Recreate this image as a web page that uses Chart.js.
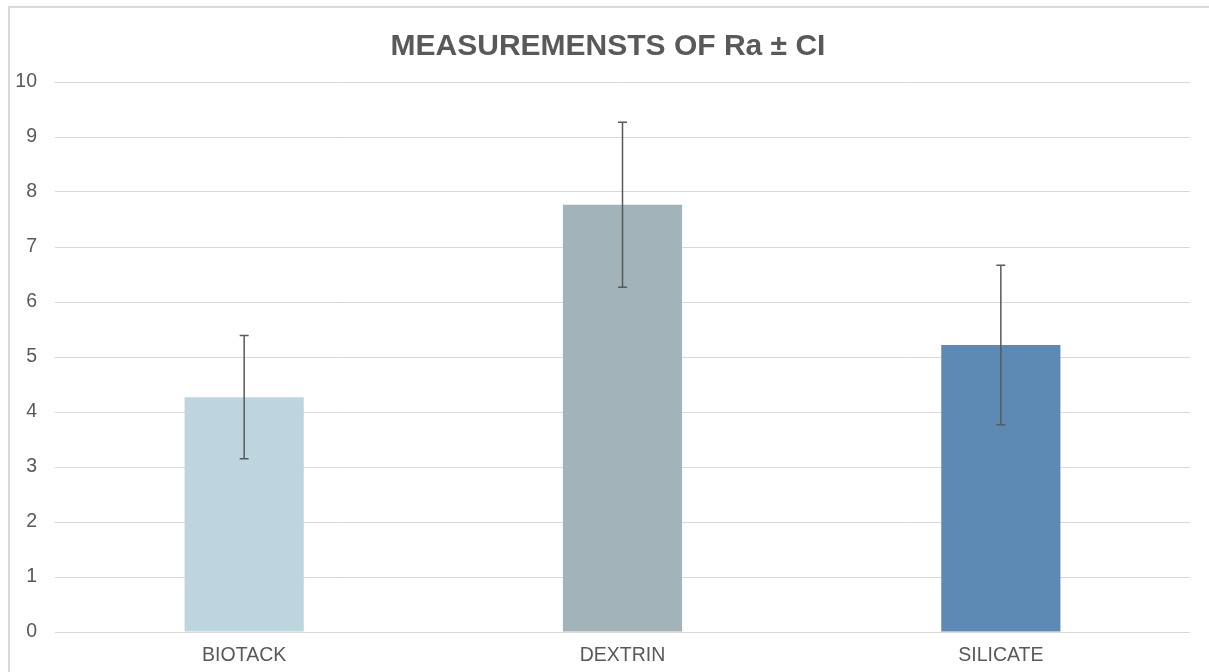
<!DOCTYPE html>
<html>
<head>
<meta charset="utf-8">
<script src="https://cdn.jsdelivr.net/npm/chart.js@4/dist/chart.umd.min.js"></script>
<style>
  html, body { margin: 0; padding: 0; background: #fff; overflow: hidden; }
  #frame { position: absolute; left: 8px; top: 6px; width: 1300px; height: 800px; border: 2px solid #d9d9d9; }
  #wrap { position: absolute; left: 0; top: 0; width: 1209px; height: 672px; }
</style>
</head>
<body>
<div id="frame"></div>
<div id="wrap"><canvas id="myChart" width="1209" height="672"></canvas></div>
<script>
// data
var categories = ["BIOTACK", "DEXTRIN", "SILICATE"];
var meanRa = [4.27, 7.77, 5.22];
var ciHalf = [1.12, 1.5, 1.45];
var barColors = ["#bdd5df", "#a2b3ba", "#5d8ab5"];
var yTicks = [0, 1, 2, 3, 4, 5, 6, 7, 8, 9, 10];

// draws the ± CI whiskers on top of the bars
var errorBars = {
  id: 'errorBars',
  afterDatasetsDraw: function(chart) {
    var meta = chart.getDatasetMeta(0);
    var y = chart.scales.y;
    var c = chart.ctx;
    c.save();
    c.strokeStyle = '#595959';
    c.lineWidth = 1.5;
    meta.data.forEach(function(bar, i) {
      var top = y.getPixelForValue(meanRa[i] + ciHalf[i]);
      var bot = y.getPixelForValue(meanRa[i] - ciHalf[i]);
      c.beginPath();
      c.moveTo(bar.x, top); c.lineTo(bar.x, bot);
      c.moveTo(bar.x - 4.5, top); c.lineTo(bar.x + 4.5, top);
      c.moveTo(bar.x - 4.5, bot); c.lineTo(bar.x + 4.5, bot);
      c.stroke();
    });
    c.restore();
  }
};

// title sits a bit right of the canvas centre in the original
var titleShift = {
  id: 'titleShift',
  afterLayout: function(chart) {
    if (chart.titleBlock) chart.titleBlock.left += 26;
  }
};

var ctx = document.getElementById("myChart");
var myChart = new Chart(ctx, {
  type: 'bar',
  data: {
    labels: categories,
    datasets: [{
      label: 'Ra',
      data: meanRa,
      backgroundColor: barColors,
      borderWidth: 0,
      categoryPercentage: 1,
      barPercentage: 0.315
    }]
  },
  options: {
    responsive: false,
    animation: false,
    layout: { padding: { left: 0, right: 19, top: 15, bottom: 5 } },
    plugins: {
      legend: { display: false },
      tooltip: { enabled: false },
      title: {
        display: true,
        text: 'MEASUREMENSTS OF Ra ± CI',
        color: '#595959',
        font: { family: 'Liberation Sans', size: 30, weight: 'bold' },
        padding: { top: 14, bottom: 17 }
      }
    },
    scales: {
      x: {
        grid: { display: false, drawTicks: false },
        border: { display: false },
        afterFit: function(axis) { axis.height = 35; },
        ticks: {
          color: '#595959',
          font: { family: 'Liberation Sans', size: 19.5 },
          padding: 12
        }
      },
      y: {
        min: 0,
        max: 10,
        afterBuildTicks: function(axis) {
          axis.ticks = yTicks.map(function(v) { return { value: v }; });
        },
        afterFit: function(axis) { axis.width = 55; },
        grid: { color: '#d9d9d9', lineWidth: 1, drawTicks: false },
        border: { display: false },
        ticks: {
          color: '#595959',
          font: { family: 'Liberation Sans', size: 19.5 },
          padding: 18
        }
      }
    }
  },
  plugins: [errorBars, titleShift]
});
</script>
</body>
</html>
